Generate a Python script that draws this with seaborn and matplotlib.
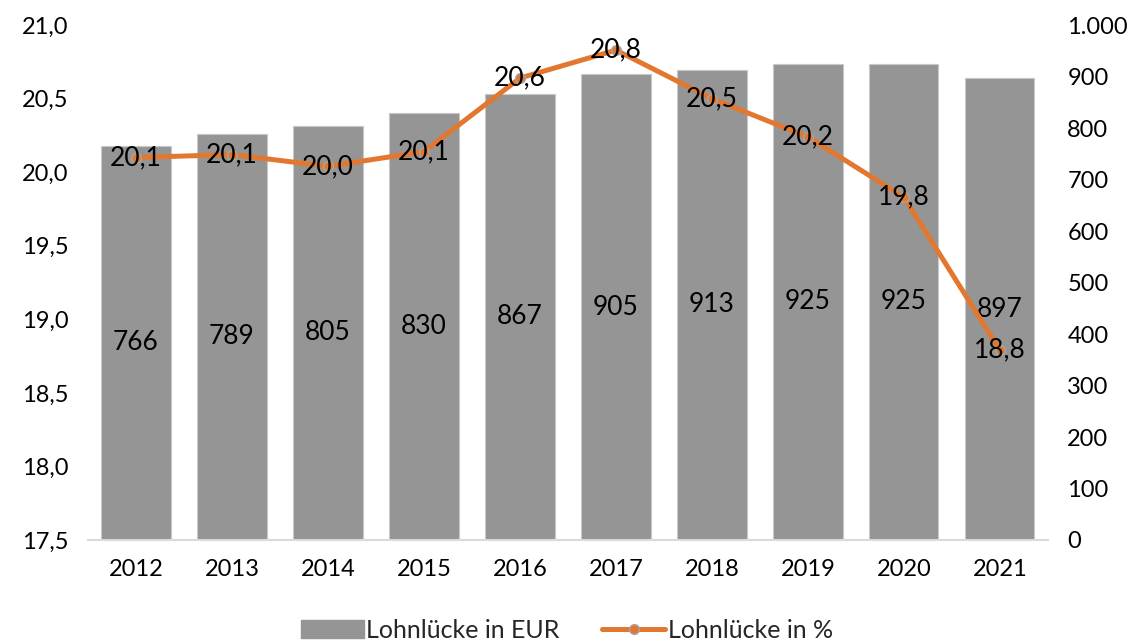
import numpy as np
import pandas as pd
import matplotlib
matplotlib.use("Agg")
import matplotlib.pyplot as plt
import seaborn as sns
from matplotlib.ticker import FuncFormatter, FixedLocator
from matplotlib.lines import Line2D
from matplotlib.patches import Patch

years = ["2012", "2013", "2014", "2015", "2016", "2017", "2018", "2019", "2020", "2021"]
gap_eur = [766, 789, 805, 830, 867, 905, 913, 925, 925, 897]
gap_pct = [20.10, 20.12, 20.04, 20.14, 20.64, 20.83, 20.50, 20.24, 19.83, 18.79]
left_ticks = [17.5, 18.0, 18.5, 19.0, 19.5, 20.0, 20.5, 21.0]
right_ticks = [0, 100, 200, 300, 400, 500, 600, 700, 800, 900, 1000]

sns.set_theme(style="white")
plt.rcParams["font.family"] = ["Lato", "DejaVu Sans"]

BAR = "#959595"
ORANGE = "#E2782F"
AXIS = "#D9D9D9"

df = pd.DataFrame({"Jahr": years, "EUR": gap_eur, "PCT": gap_pct})

fig = plt.figure(figsize=(11.34, 6.44), dpi=100)
ax = fig.add_axes([0.0776, 0.1615, 0.8465, 0.7995])

sns.barplot(data=df, x="Jahr", y="EUR", ax=ax, color=BAR, width=0.72,
            edgecolor="#C8C8C8", linewidth=0.8, saturation=1)
ax.set_ylim(0, 1000)
ax.set_xlim(-0.5, len(years) - 0.5)
ax.set_xlabel("")
ax.set_ylabel("")
for c in ax.containers:
    for rect, v in zip(c, gap_eur):
        ax.text(rect.get_x() + rect.get_width() / 2, v / 2, f"{v}",
                ha="center", va="center", fontsize=19, color="black")

ax2 = ax.twinx()
xpos = np.arange(len(years))
ax2.plot(xpos, gap_pct, color=ORANGE, linewidth=3.6, marker="o", markersize=7,
         markerfacecolor=ORANGE, markeredgecolor="#A5A5A5", markeredgewidth=1, zorder=3)
ax2.set_ylim(17.5, 21.0)
ax2.yaxis.tick_left()
ax2.yaxis.set_major_locator(FixedLocator(left_ticks))
ax2.yaxis.set_major_formatter(FuncFormatter(lambda v, p: f"{v:.1f}".replace(".", ",")))
for x, v in zip(xpos, gap_pct):
    ax2.text(x, v, f"{v:.1f}".replace(".", ","), ha="center", va="center",
             fontsize=19, color="black", zorder=4)

ax.yaxis.tick_right()
ax.yaxis.set_major_locator(FixedLocator(right_ticks))
ax.yaxis.set_major_formatter(FuncFormatter(lambda v, p: f"{int(v):,}".replace(",", ".")))

for a in (ax, ax2):
    for s in ["top", "left", "right"]:
        a.spines[s].set_visible(False)
    a.spines["bottom"].set_color(AXIS)
    a.spines["bottom"].set_linewidth(1.5)
    a.tick_params(axis="y", length=0, labelsize=17, colors="black", pad=14)
    a.grid(False)

ax2.spines["bottom"].set_visible(False)
ax.set_xticks(xpos)
ax.set_xticklabels(years)
ax.set_xticks(np.arange(-0.5, len(years), 1.0), minor=True)
ax.tick_params(axis="x", which="major", length=0, labelsize=17, colors="black", pad=14)
ax.tick_params(axis="x", which="minor", length=10, direction="inout", color=AXIS, width=1.5)

handles = [Patch(facecolor=BAR, edgecolor=BAR, label="Lohnlücke in EUR"),
           Line2D([0], [0], color=ORANGE, linewidth=3.6, marker="o", markersize=7,
                  markerfacecolor=ORANGE, markeredgecolor="#A5A5A5", label="Lohnlücke in %")]
fig.legend(handles=handles, loc="lower center", bbox_to_anchor=(0.5, 0.0), ncol=2,
           frameon=False, fontsize=18, handlelength=2.5, handletextpad=0.12,
           columnspacing=1.7, handleheight=0.7, borderaxespad=0.0, borderpad=0.1)

fig.savefig("out.png", dpi=100)
